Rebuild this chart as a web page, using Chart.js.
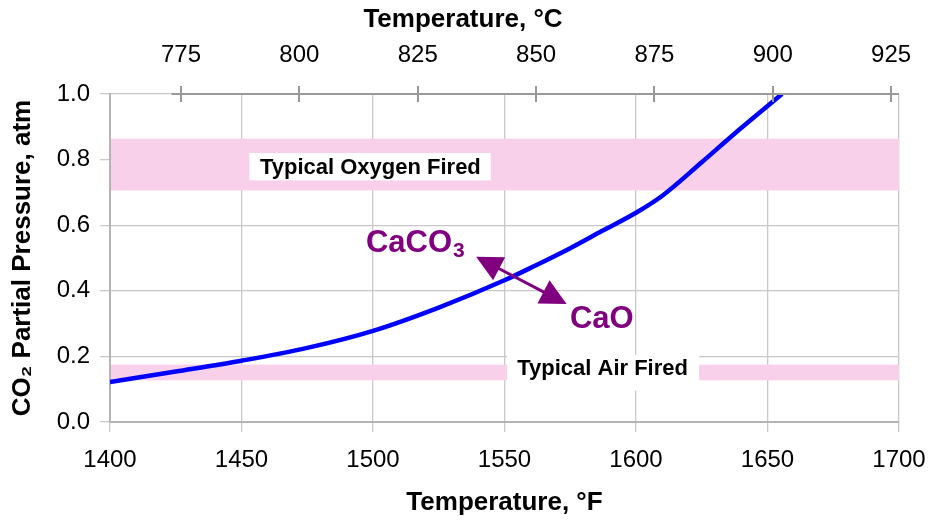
<!DOCTYPE html>
<html>
<head>
<meta charset="utf-8">
<title>CO2 Partial Pressure vs Temperature</title>
<script src="https://cdn.jsdelivr.net/npm/chart.js@4.4.1/dist/chart.umd.min.js"></script>
<style>
  html, body { margin: 0; padding: 0; background: #ffffff; }
  #wrap { width: 930px; height: 523px; position: relative; }
</style>
</head>
<body>
<div id="wrap"><canvas id="chart"></canvas></div>
<script>
// Equilibrium CO2 partial pressure over CaCO3 / CaO
const tempF = [1400, 1425, 1450, 1475, 1500, 1525, 1550, 1562, 1575, 1587, 1600, 1610, 1625, 1637, 1655.5];
const pressureAtm = [0.122, 0.154, 0.187, 0.226, 0.278, 0.349, 0.432, 0.478, 0.530, 0.582, 0.638, 0.690, 0.792, 0.876, 1.0];

// Axis ticks
const fahrenheitTicks = [1400, 1450, 1500, 1550, 1600, 1650, 1700];
const celsiusTicks = [775, 800, 825, 850, 875, 900, 925];
const pressureTicks = [0.0, 0.2, 0.4, 0.6, 0.8, 1.0];

// Typical operating ranges (atm)
const oxygenFiredRange = [0.706, 0.864];
const airFiredRange = [0.127, 0.175];

const fToC = f => (f - 32) * 5 / 9;

Chart.defaults.font.family = '"Liberation Sans", Arial, Helvetica, sans-serif';
Chart.defaults.color = '#000000';

const GRID = '#c8c8c8';
const AXIS = '#b4b4b4';
const PINK = '#f9d0e9';
const PURPLE = '#800080';

// Shaded operating ranges with their labels
const rangeBands = {
  id: 'rangeBands',
  beforeDatasetsDraw(chart) {
    const { ctx, chartArea: a, scales: { x, y } } = chart;
    ctx.save();
    ctx.fillStyle = PINK;
    [oxygenFiredRange, airFiredRange].forEach(r => {
      const y1 = y.getPixelForValue(r[1]);
      const y0 = y.getPixelForValue(r[0]);
      ctx.fillRect(a.left + 1, y1, a.right - a.left - 1, y0 - y1);
    });
    const labels = [
      { text: 'Typical Oxygen Fired', box: [1453, 1544.8, 0.7366, 0.820], at: [1499, 0.756] },
      { text: 'Typical Air Fired', box: [1551, 1624, 0.096, 0.205], at: [1587.3, 0.144] }
    ];
    ctx.font = 'bold 22px "Liberation Sans", Arial, sans-serif';
    ctx.textAlign = 'center';
    ctx.textBaseline = 'alphabetic';
    labels.forEach(l => {
      const bx0 = x.getPixelForValue(l.box[0]);
      const bx1 = x.getPixelForValue(l.box[1]);
      const by0 = y.getPixelForValue(l.box[3]);
      const by1 = y.getPixelForValue(l.box[2]);
      ctx.fillStyle = '#ffffff';
      ctx.fillRect(bx0, by0, bx1 - bx0, by1 - by0);
      ctx.fillStyle = '#000000';
      ctx.fillText(l.text, x.getPixelForValue(l.at[0]), y.getPixelForValue(l.at[1]));
    });
    ctx.restore();
  }
};

// Reaction direction arrow and species labels
const reactionArrow = {
  id: 'reactionArrow',
  afterDatasetsDraw(chart) {
    const { ctx, scales: { x, y } } = chart;
    const p1 = { x: x.getPixelForValue(1539.2), y: y.getPixelForValue(0.504) };
    const p2 = { x: x.getPixelForValue(1573.6), y: y.getPixelForValue(0.360) };
    const ang = Math.atan2(p2.y - p1.y, p2.x - p1.x);
    const len = 26, half = 13;
    ctx.save();
    ctx.strokeStyle = PURPLE;
    ctx.fillStyle = PURPLE;
    ctx.lineWidth = 3;
    ctx.beginPath();
    ctx.moveTo(p1.x + Math.cos(ang) * (len - 2), p1.y + Math.sin(ang) * (len - 2));
    ctx.lineTo(p2.x - Math.cos(ang) * (len - 2), p2.y - Math.sin(ang) * (len - 2));
    ctx.stroke();
    const head = (tip, dir) => {
      const bx = tip.x + Math.cos(dir) * len, by = tip.y + Math.sin(dir) * len;
      ctx.beginPath();
      ctx.moveTo(tip.x, tip.y);
      ctx.lineTo(bx + Math.cos(dir + Math.PI / 2) * half, by + Math.sin(dir + Math.PI / 2) * half);
      ctx.lineTo(bx - Math.cos(dir + Math.PI / 2) * half, by - Math.sin(dir + Math.PI / 2) * half);
      ctx.closePath();
      ctx.fill();
    };
    head(p1, ang);
    head(p2, ang + Math.PI);

    ctx.textAlign = 'left';
    ctx.textBaseline = 'alphabetic';
    ctx.font = 'bold 31px "Liberation Sans", Arial, sans-serif';
    const cx = x.getPixelForValue(1497.3), cy = y.getPixelForValue(0.519);
    ctx.fillText('CaCO', cx, cy);
    const w = ctx.measureText('CaCO').width;
    ctx.font = 'bold 21px "Liberation Sans", Arial, sans-serif';
    ctx.fillText('3', cx + w + 1, cy + 5);
    ctx.font = 'bold 31px "Liberation Sans", Arial, sans-serif';
    ctx.fillText('CaO', x.getPixelForValue(1574.9), y.getPixelForValue(0.2875));
    ctx.restore();
  }
};

// Celsius axis line with cross ticks, and its title
const celsiusAxis = {
  id: 'celsiusAxis',
  afterDraw(chart) {
    const { ctx, chartArea: a, scales: { x2 } } = chart;
    ctx.save();
    ctx.strokeStyle = '#999999';
    ctx.lineWidth = 2;
    ctx.beginPath();
    ctx.moveTo(x2.getPixelForValue(773), a.top);
    ctx.lineTo(a.right, a.top);
    celsiusTicks.forEach(c => {
      const px = Math.round(x2.getPixelForValue(c));
      ctx.moveTo(px, a.top - 8);
      ctx.lineTo(px, a.top + 8);
    });
    ctx.stroke();
    ctx.fillStyle = '#000000';
    ctx.font = 'bold 26px "Liberation Sans", Arial, sans-serif';
    ctx.textAlign = 'center';
    ctx.textBaseline = 'alphabetic';
    ctx.fillText('Temperature, \u00B0C', 463, 26.7);
    ctx.restore();
  }
};

new Chart(document.getElementById('chart'), {
  type: 'line',
  data: {
    datasets: [{
      label: 'CO2 equilibrium',
      data: tempF.map((f, i) => ({ x: f, y: pressureAtm[i] })),
      xAxisID: 'x',
      yAxisID: 'y',
      borderColor: '#0000ff',
      borderWidth: 4.5,
      pointRadius: 0,
      fill: false,
      cubicInterpolationMode: 'monotone'
    }]
  },
  options: {
    responsive: true,
    maintainAspectRatio: false,
    animation: false,
    layout: { padding: { left: 0, right: 31, top: 0, bottom: 0 } },
    plugins: { legend: { display: false }, tooltip: { enabled: false } },
    scales: {
      x: {
        type: 'linear',
        position: 'bottom',
        min: fahrenheitTicks[0],
        max: fahrenheitTicks[fahrenheitTicks.length - 1],
        afterBuildTicks: s => { s.ticks = fahrenheitTicks.map(v => ({ value: v })); },
        afterFit: s => { s.height = 101; s.paddingLeft = 0; s.paddingRight = 0; },
        ticks: { font: { size: 24 }, color: '#000', padding: 14, maxRotation: 0, autoSkip: false, callback: v => String(v) },
        grid: { color: GRID, tickColor: GRID, tickLength: 10, lineWidth: 1.3 },
        border: { color: AXIS, width: 2 },
        title: { display: true, text: 'Temperature, \u00B0F', font: { size: 26, weight: 'bold' }, padding: { top: 0, bottom: 5 } }
      },
      x2: {
        type: 'linear',
        position: 'top',
        min: fToC(fahrenheitTicks[0]),
        max: fToC(fahrenheitTicks[fahrenheitTicks.length - 1]),
        afterBuildTicks: s => { s.ticks = celsiusTicks.map(v => ({ value: v })); },
        afterFit: s => { s.height = 94; s.paddingLeft = 0; s.paddingRight = 0; },
        ticks: { font: { size: 24 }, color: '#000', padding: 24, maxRotation: 0, autoSkip: false, callback: v => String(v) },
        grid: { display: false, drawTicks: false, drawOnChartArea: false },
        border: { display: false }
      },
      y: {
        type: 'linear',
        position: 'left',
        min: 0,
        max: 1,
        afterBuildTicks: s => { s.ticks = pressureTicks.map(v => ({ value: v })); },
        afterFit: s => { s.width = 110; },
        ticks: { font: { size: 24 }, color: '#000', padding: 10, callback: v => v.toFixed(1) },
        grid: { color: GRID, tickColor: GRID, tickLength: 10, lineWidth: 1.3 },
        border: { color: AXIS, width: 2 },
        title: { display: true, text: 'CO\u2082 Partial Pressure, atm', font: { size: 26, weight: 'bold' }, padding: { top: 7, bottom: 0 } }
      }
    }
  },
  plugins: [rangeBands, reactionArrow, celsiusAxis]
});
</script>
</body>
</html>
